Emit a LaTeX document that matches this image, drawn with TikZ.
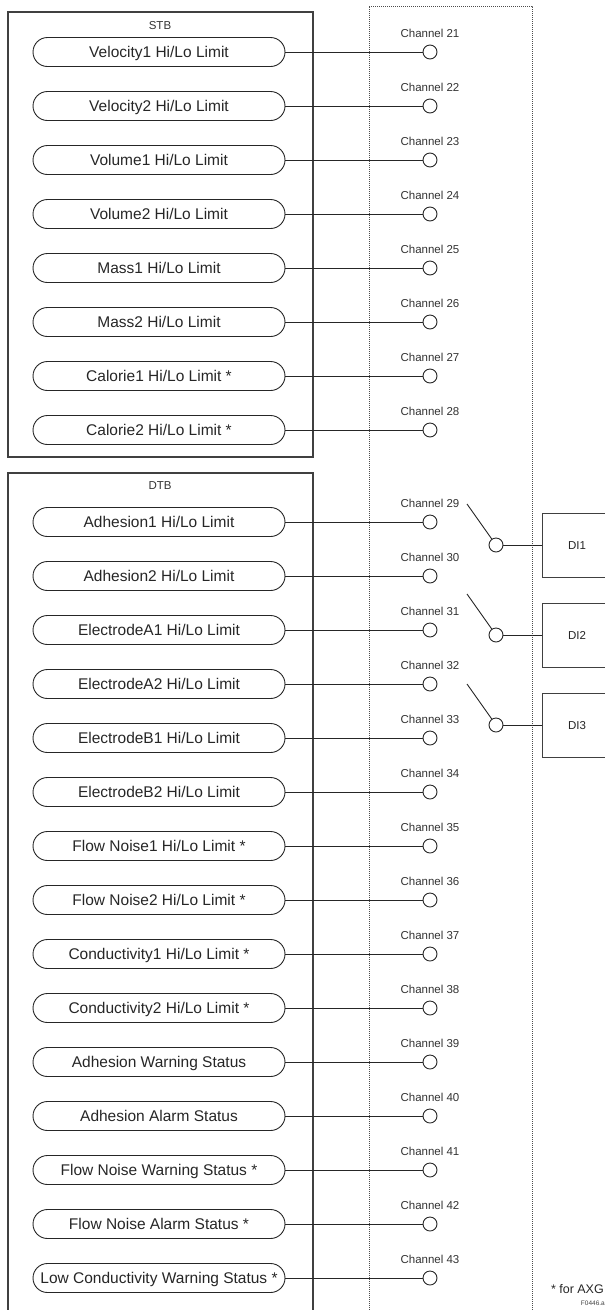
\documentclass[tikz,border=0pt]{standalone}
\usepackage{fontspec}
\setmainfont{Liberation Sans}
\usetikzlibrary{shapes.misc}
\newcommand\hilo{Hi/Lo Limit}
\begin{document}
\begin{tikzpicture}[x=1pt,y=-1pt,
  pill/.style={draw=black!85, line width=0.9pt, rounded rectangle, minimum width=252pt, minimum height=29pt, inner sep=0pt, text height=11.1pt, text depth=0pt, text=black!85, font=\fontsize{15.5}{18}\selectfont},
  chan/.style={circle, draw=black!85, line width=0.9pt, minimum size=14pt, inner sep=0pt, fill=white},
  chlabel/.style={font=\fontsize{11.5}{13}\selectfont, text=black!80, inner sep=0pt, text height=8.2pt, text depth=0pt},
  wire/.style={draw=black!85, line width=0.9pt},
  frame/.style={draw=black!75, line width=1.2pt},
  dots/.style={draw=black!70, line width=0.9pt, dash pattern=on 1pt off 1pt},
  ditext/.style={font=\fontsize{11.5}{13}\selectfont, text=black!85, inner sep=0pt, text height=8.2pt, text depth=0pt},
]
\useasboundingbox (0,0) rectangle (605,1310);

% frames
\draw[frame] (8,12) rectangle (313,457);
\node[chlabel] (stb) at (160,25) {STB};
\draw[frame] (8,1312) -- (8,473) -- (313,473) -- (313,1312);
\node[chlabel] (dtb) at (160,485) {DTB};
\draw[dots] (369,1312) -- (369,6) -- (532,6) -- (532,1312);

% STB items
\foreach \lbl [count=\i from 0] in {Velocity1 \hilo, Velocity2 \hilo, Volume1 \hilo, Volume2 \hilo, Mass1 \hilo, Mass2 \hilo, Calorie1 \hilo{} *, Calorie2 \hilo{} *}{
  \pgfmathtruncatemacro\ch{21+\i}
  \node[pill] (p\ch) at (159,{52+54*\i}) {\lbl};
  \node[chan] (c\ch) at (430,{52+54*\i}) {};
  \node[chlabel] (l\ch) at (430,{33+54*\i}) {Channel \ch};
  \draw[wire] (p\ch.east) -- (c\ch);
}

% DTB items
\foreach \lbl [count=\i from 0] in {Adhesion1 \hilo, Adhesion2 \hilo, ElectrodeA1 \hilo, ElectrodeA2 \hilo, ElectrodeB1 \hilo, ElectrodeB2 \hilo, Flow Noise1 \hilo{} *, Flow Noise2 \hilo{} *, Conductivity1 \hilo{} *, Conductivity2 \hilo{} *, Adhesion Warning Status, Adhesion Alarm Status, Flow Noise Warning Status *, Flow Noise Alarm Status *, Low Conductivity Warning Status *}{
  \pgfmathtruncatemacro\ch{29+\i}
  \node[pill] (p\ch) at (159,{522+54*\i}) {\lbl};
  \node[chan] (c\ch) at (430,{522+54*\i}) {};
  \node[chlabel] (l\ch) at (430,{503+54*\i}) {Channel \ch};
  \draw[wire] (p\ch.east) -- (c\ch);
}

% DI switches
\foreach \k/\y in {1/545, 2/635, 3/725}{
  \node[chan] (sw\k) at (496,\y) {};
  \coordinate (sw\k top) at (467,{\y-41});
  \draw[wire] (sw\k top) -- (sw\k);
  \coordinate (di\k in) at (542,\y);
  \draw[wire] (sw\k) -- (di\k in);
  \draw[frame, line width=1pt] (610,{\y-32}) -- (542,{\y-32}) -- (542,{\y+32}) -- (610,{\y+32});
  \node[ditext] (di\k) at (577,\y) {DI\k};
}

% footnote
\node[anchor=east, inner sep=0pt, font=\fontsize{12.5}{14}\selectfont, text=black!85] (note) at (604,1289) {* for AXG};
\node[anchor=east, inner sep=0pt, font=\fontsize{6.5}{8}\selectfont, text=black!75] (fig) at (605,1303) {F0446.a};
\end{tikzpicture}
\end{document}
